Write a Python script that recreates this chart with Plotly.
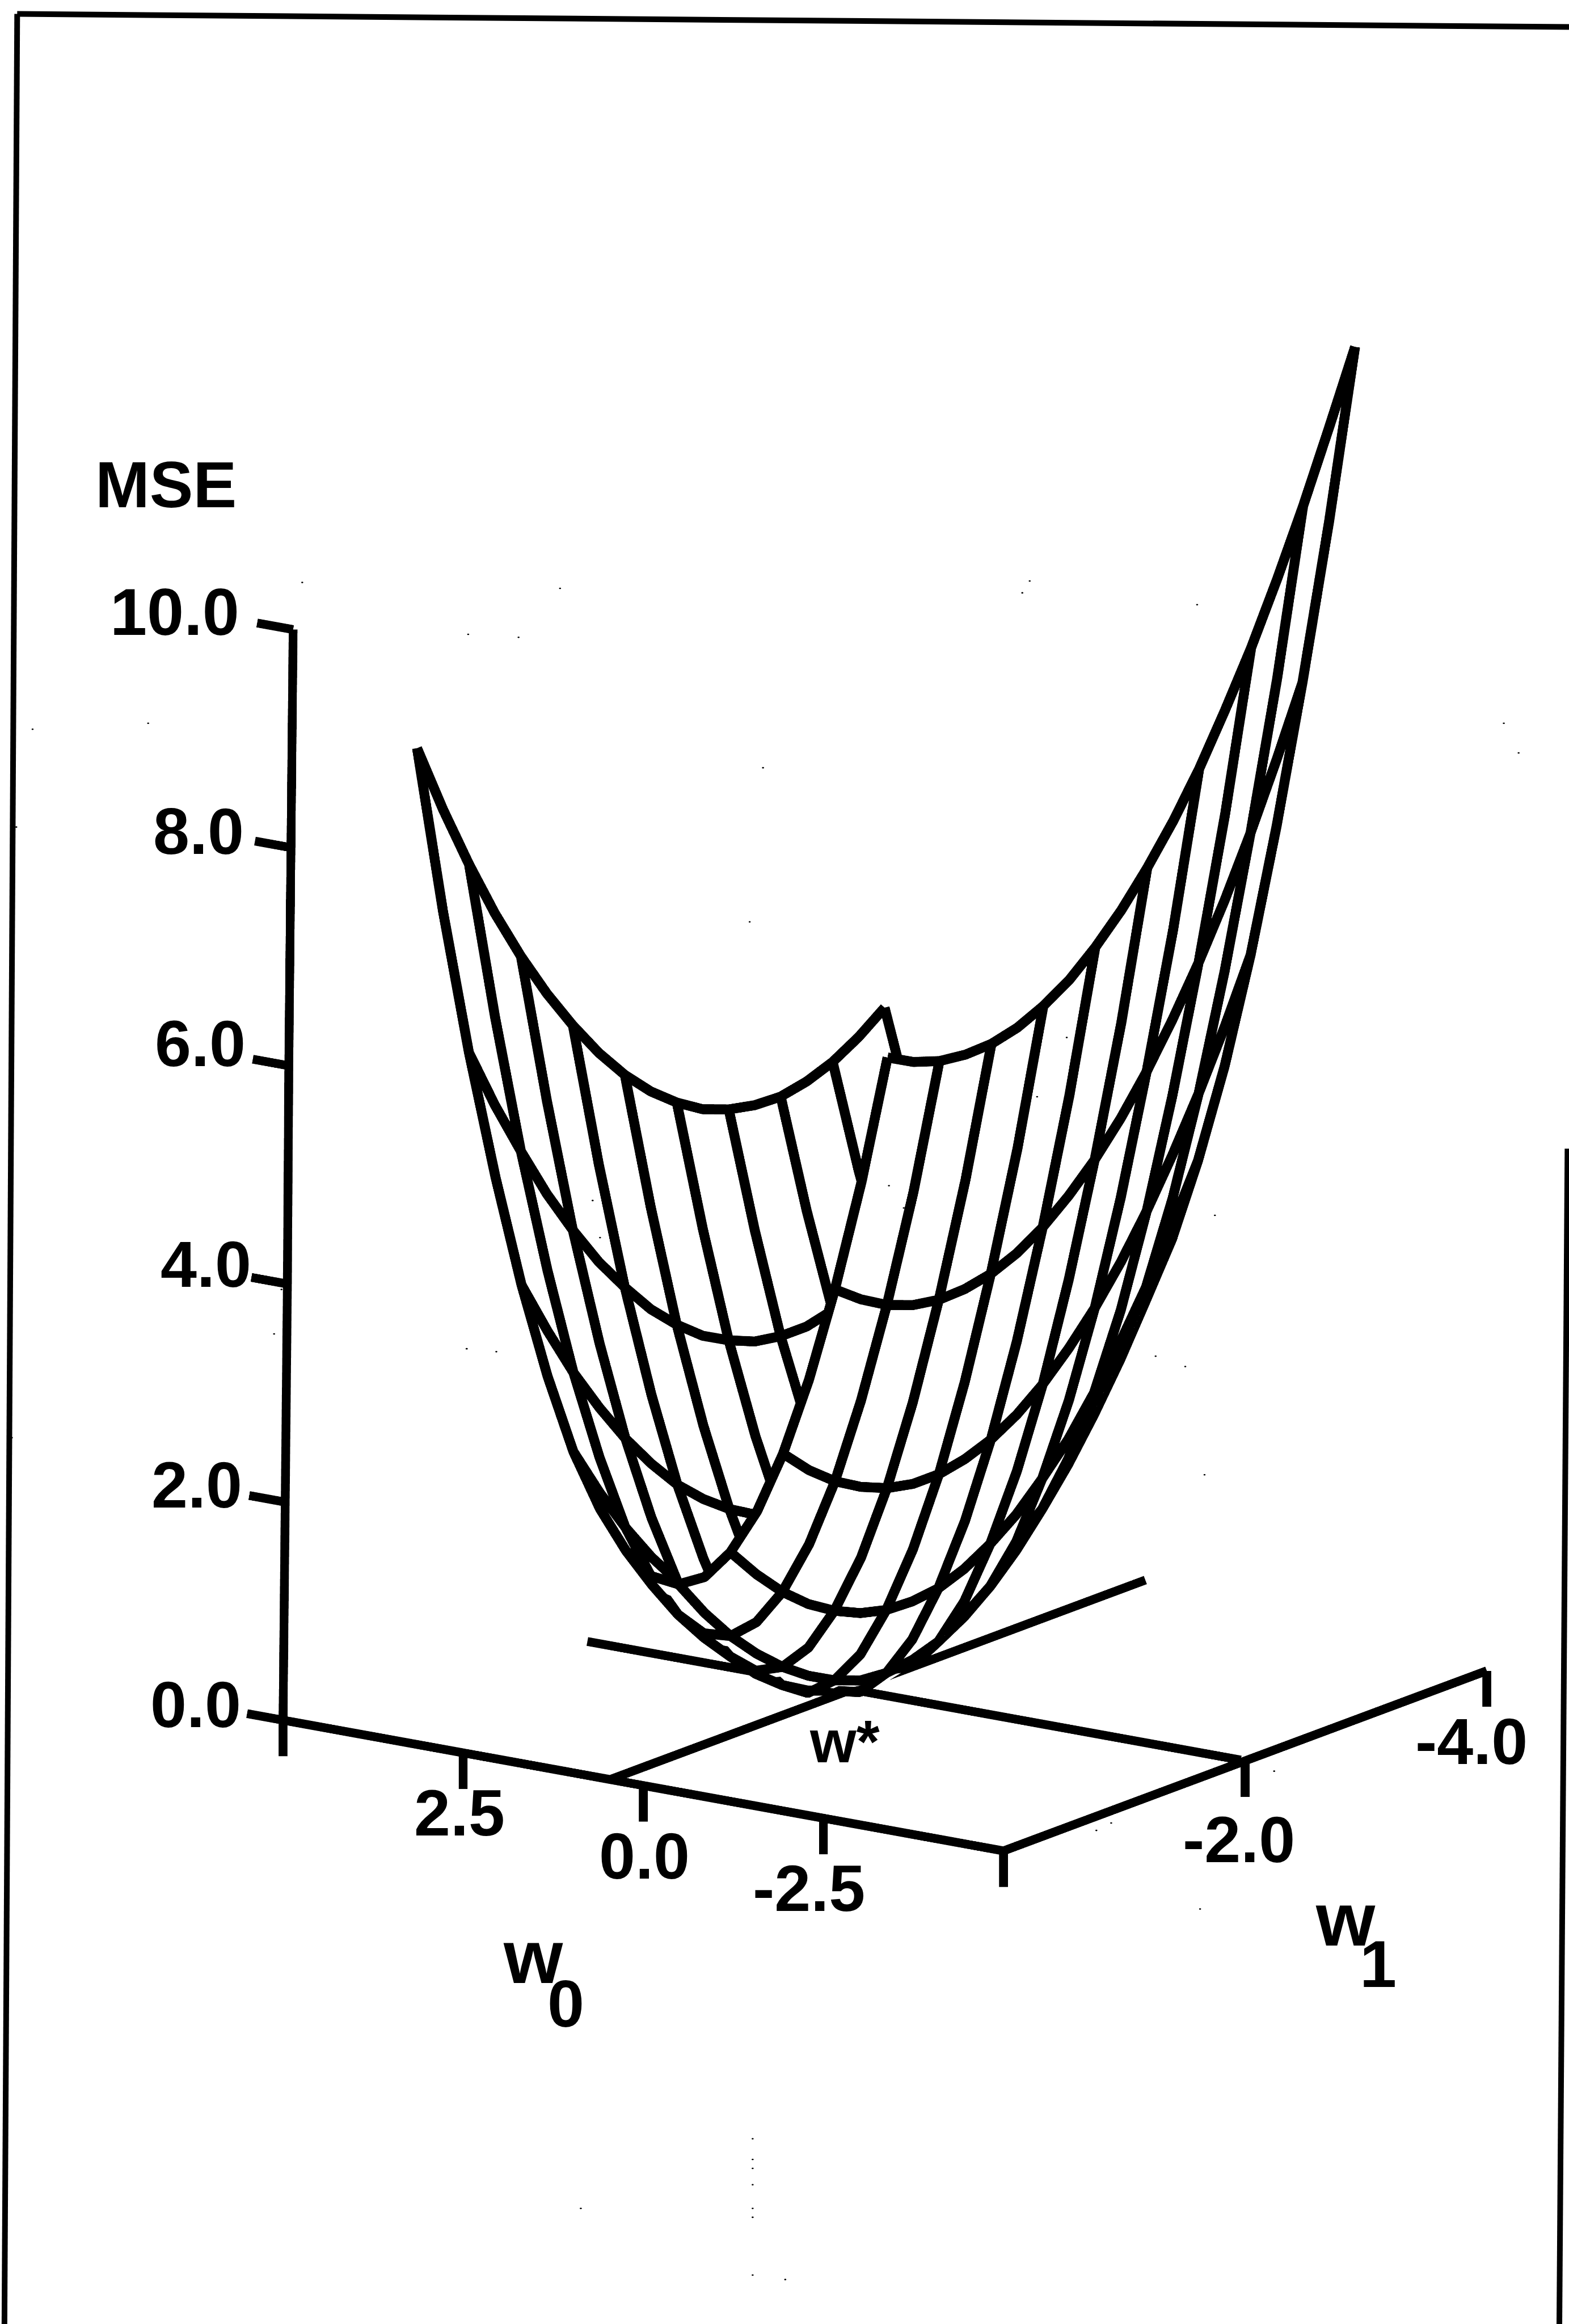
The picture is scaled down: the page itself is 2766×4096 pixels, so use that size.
import plotly.graph_objects as go

# ---- data ----
w0_values = [3.14, 2.78, 2.42, 2.05, 1.69, 1.33, 0.97, 0.60, 0.24, -0.12, -0.49, -0.85, -1.21, -1.58, -1.94, -2.30, -2.66, -3.03, -3.39]
w1_values = [0.0, -0.215, -0.43, -0.645, -0.86, -1.075, -1.29, -1.505, -1.72, -1.935, -2.15, -2.365, -2.58, -2.795, -3.01, -3.225, -3.44, -3.655, -3.87]
mse_rows = [
    [9.12, 8.47, 7.88, 7.34, 6.86, 6.43, 6.05, 5.71, 5.42, 5.18, 4.99, 4.84, 4.75, 4.70, 4.69, 4.74, 4.83, 4.97, 5.15],
    [7.67, 7.08, 6.53, 6.03, 5.58, 5.18, 4.82, 4.52, 4.25, 4.04, 3.88, 3.76, 3.69, 3.66, 3.69, 3.76, 3.88, 4.05, 4.26],
    [6.42, 5.85, 5.34, 4.86, 4.44, 4.06, 3.74, 3.45, 3.22, 3.03, 2.90, 2.80, 2.76, 2.76, 2.82, 2.91, 3.06, 3.25, 3.50],
    [5.32, 4.78, 4.29, 3.85, 3.45, 3.10, 2.80, 2.55, 2.34, 2.18, 2.07, 2.01, 1.99, 2.02, 2.10, 2.23, 2.40, 2.62, 2.89],
    [4.38, 3.87, 3.40, 2.99, 2.62, 2.30, 2.02, 1.80, 1.62, 1.48, 1.40, 1.36, 1.37, 1.43, 1.54, 1.69, 1.89, 2.14, 2.44],
    [3.59, 3.11, 2.67, 2.28, 1.94, 1.63, 1.39, 1.18, 1.03, 0.92, 0.87, 0.86, 0.90, 0.99, 1.13, 1.31, 1.54, 1.82, 2.14],
    [2.94, 2.48, 2.07, 1.71, 1.40, 1.12, 0.88, 0.70, 0.57, 0.49, 0.46, 0.49, 0.56, 0.70, 0.87, 1.08, 1.33, 1.64, 1.99],
    [2.46, 2.03, 1.65, 1.31, 1.03, 0.77, 0.55, 0.39, 0.28, 0.23, 0.23, 0.29, 0.40, 0.56, 0.77, 1.00, 1.28, 1.61, 1.99],
    [2.12, 1.72, 1.36, 1.06, 0.80, 0.55, 0.36, 0.22, 0.13, 0.11, 0.14, 0.23, 0.37, 0.57, 0.81, 1.07, 1.38, 1.74, 2.15],
    [1.93, 1.56, 1.23, 0.95, 0.71, 0.50, 0.33, 0.22, 0.16, 0.16, 0.22, 0.34, 0.50, 0.73, 1.00, 1.29, 1.63, 2.01, 2.44],
    [1.90, 1.55, 1.25, 1.00, 0.79, 0.62, 0.49, 0.40, 0.38, 0.41, 0.49, 0.63, 0.82, 1.06, 1.35, 1.67, 2.04, 2.45, 2.91],
    [2.01, 1.69, 1.42, 1.19, 1.01, 0.87, 0.77, 0.73, 0.73, 0.79, 0.90, 1.06, 1.27, 1.54, 1.85, 2.19, 2.59, 3.03, 3.51],
    [2.28, 1.99, 1.74, 1.54, 1.39, 1.28, 1.22, 1.21, 1.24, 1.33, 1.47, 1.65, 1.89, 2.16, 2.50, 2.87, 3.29, 3.76, 4.27],
    [2.70, 2.43, 2.22, 2.05, 1.92, 1.85, 1.82, 1.84, 1.90, 2.02, 2.18, 2.39, 2.65, 2.95, 3.30, 3.70, 4.15, 4.64, 5.18],
    [3.27, 3.03, 2.84, 2.70, 2.60, 2.55, 2.55, 2.60, 2.69, 2.83, 3.02, 3.26, 3.54, 3.87, 4.25, 4.68, 5.15, 5.67, 6.24],
    [3.99, 3.78, 3.62, 3.50, 3.43, 3.41, 3.44, 3.51, 3.63, 3.80, 4.02, 4.28, 4.59, 4.95, 5.36, 5.81, 6.31, 6.86, 7.46],
    [4.86, 4.68, 4.54, 4.45, 4.41, 4.42, 4.47, 4.57, 4.72, 4.92, 5.16, 5.45, 5.79, 6.18, 6.61, 7.09, 7.62, 8.20, 8.82],
    [5.89, 5.73, 5.62, 5.56, 5.55, 5.58, 5.66, 5.79, 5.97, 6.19, 6.46, 6.78, 7.14, 7.56, 8.02, 8.53, 9.08, 9.69, 10.34],
    [7.07, 6.94, 6.86, 6.83, 6.84, 6.90, 7.01, 7.16, 7.37, 7.62, 7.92, 8.26, 8.65, 9.10, 9.58, 10.12, 10.70, 11.33, 11.98],
]
mse_ticks = [0.0, 2.0, 4.0, 6.0, 8.0, 10.0]
mse_axis_w0 = [5.0, 4.97, 4.94, 4.92, 4.89, 4.86]
w0_ticks = [5.0, 2.5, 0.0, -2.5, -5.0]
w1_ticks = [0.0, -2.0, -4.0]
w_star = (0.46, -2.0)

# ---- view ----
ranges = {"x": [-6, 6], "y": [-5, 1], "z": [-1, 13]}
ZOOM = 1.43
aspect = {"x": 0.709 * ZOOM, "y": 0.852 * ZOOM, "z": 1.065 * ZOOM}
eye_dir = (-0.5526, 0.792, 0.26)
R = 2.0
TILT = 0.006
right = (-0.8206, -0.5715)
scale = {k: (ranges[k][1] - ranges[k][0]) / aspect[k] for k in "xyz"}
BIAS = 0.08
off = tuple(BIAS * e * scale[k] for e, k in zip(eye_dir, "xyz"))
W = 2766; H = 4096
REF_W = 1059.0; REF_H = 1568.0
INK = "#000000"
WIRE = 34; AXIS = 30
N = len(w0_values)

fig = go.Figure()
fig.add_trace(go.Surface(x=w0_values, y=w1_values, z=[[mse_rows[i][j] for i in range(N)] for j in range(N)],
                         colorscale=[[0, "white"], [1, "white"]], showscale=False, hoverinfo="skip",
                         lighting=dict(ambient=1, diffuse=0, specular=0, roughness=1, fresnel=0)))

def line(xs, ys, zs, width):
    fig.add_trace(go.Scatter3d(x=xs, y=ys, z=zs, mode="lines", showlegend=False, hoverinfo="skip",
                               line=dict(color=INK, width=width)))

for i in range(0, N, 2):
    line([w0_values[i] + off[0]] * N, [w + off[1] for w in w1_values], [z + off[2] for z in mse_rows[i]], WIRE)
for j in range(0, N, 2):
    line([w + off[0] for w in w0_values], [w1_values[j] + off[1]] * N, [mse_rows[i][j] + off[2] for i in range(N)], WIRE)

# axes drawn in data space
line([5, -5], [0, 0], [0, 0], AXIS)
line([-5, -5], [0, -4], [0, 0], AXIS)
line([5] + mse_axis_w0, [0] * 7, [-0.33] + mse_ticks, AXIS)
for m, w in zip(mse_ticks, mse_axis_w0):
    line([w, w + 0.5], [0, 0], [m, m], AXIS)
for w in w0_ticks:
    line([w, w], [0, 0], [0, -0.33], AXIS)
for w in w1_ticks:
    line([-5, -5], [w, w], [0, -0.33], AXIS)
line([4.13, -4.94], [w_star[1]] * 2, [0, 0], AXIS)
line([w_star[0]] * 2, [0, -4.43], [0, 0], AXIS)

labels = [("MSE", 112, 327, 115), ("10.0", 118, 413, 117), ("8.0", 134, 561, 115), ("6.0", 135, 704, 115),
          ("4.0", 139, 853, 115), ("2.0", 133, 1002, 115), ("0.0", 132, 1150, 115),
          ("2.5", 310, 1223, 115), ("0.0", 435, 1252, 115), ("-2.5", 546, 1274, 115),
          ("-2.0", 836, 1241, 115), ("-4.0", 993, 1175, 115), ("w*", 570, 1175, 105),
          ("w", 360, 1320, 134), ("0", 382, 1352, 117), ("w", 908, 1295, 134), ("1", 930, 1325, 117)]
annotations = [dict(text="<b>%s</b>" % t, x=x / REF_W, y=1 - y / REF_H, xref="paper", yref="paper",
                    showarrow=False, xanchor="center", yanchor="middle",
                    font=dict(family="Liberation Sans", size=s, color=INK)) for t, x, y, s in labels]

frame = [((11.6, 9.4), (1059, 18.2)), ((11.6, 9.4), (3, 1568)), ((1058, 775), (1052.5, 1568))]
shapes = [dict(type="line", xref="paper", yref="paper", x0=a[0] / REF_W, y0=1 - a[1] / REF_H,
               x1=b[0] / REF_W, y1=1 - b[1] / REF_H, line=dict(color=INK, width=10)) for a, b in frame]
specks = [(204, 393), (316, 428), (350, 430), (378, 397), (690, 400), (695, 392), (808, 408), (1015, 488), (1025, 508),
          (100, 488), (22, 492), (11, 558), (515, 518), (506, 622), (600, 800), (610, 815), (400, 810), (405, 835),
          (700, 740), (720, 700), (820, 820), (800, 922), (780, 915), (315, 910), (335, 912), (185, 900), (190, 870),
          (8, 970), (813, 995), (810, 1288), (750, 1230), (740, 1235), (860, 1195), (508, 1443), (508, 1457), (508, 1463),
          (508, 1474), (508, 1490), (508, 1496), (508, 1535), (392, 1490), (530, 1538)]
for x, y in specks:
    shapes.append(dict(type="circle", xref="paper", yref="paper", x0=(x - 0.7) / REF_W, x1=(x + 0.7) / REF_W,
                       y0=1 - (y + 0.5) / REF_H, y1=1 - (y - 0.5) / REF_H, fillcolor=INK, line=dict(width=0)))

hidden = dict(visible=False, showgrid=False, zeroline=False, showbackground=False, showspikes=False)
fig.update_layout(
    width=W, height=H, autosize=False, margin=dict(l=0, r=0, t=0, b=0),
    paper_bgcolor="white", showlegend=False, annotations=annotations, shapes=shapes,
    scene=dict(
        domain=dict(x=[0.128, 1.0], y=[0.105, 1.0]),
        xaxis=dict(range=ranges["x"], **hidden), yaxis=dict(range=ranges["y"], **hidden),
        zaxis=dict(range=ranges["z"], **hidden),
        aspectmode="manual", aspectratio=aspect,
        camera=dict(projection=dict(type="orthographic"),
                    up=dict(x=-TILT * right[0], y=-TILT * right[1], z=1), center=dict(x=0, y=0, z=0),
                    eye=dict(x=R * eye_dir[0], y=R * eye_dir[1], z=R * eye_dir[2])),
    ),
)
fig.write_html("out.html", config=dict(displayModeBar=False),
               post_script="document.body.style.margin='0';document.body.style.overflow='hidden';")
